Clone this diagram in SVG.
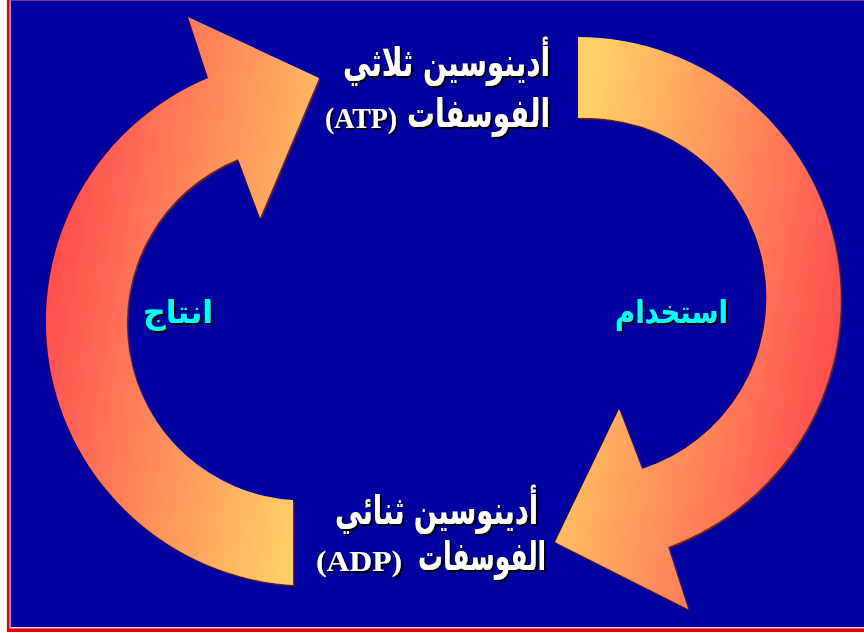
<svg xmlns="http://www.w3.org/2000/svg" width="864" height="633" viewBox="0 0 864 633">
  <defs>
    <linearGradient id="gLeft" gradientUnits="userSpaceOnUse" x1="45" y1="330" x2="322" y2="380">
      <stop offset="0" stop-color="#ff5050"/>
      <stop offset="1" stop-color="#ffd066"/>
    </linearGradient>
    <linearGradient id="gRight" gradientUnits="userSpaceOnUse" x1="844" y1="290" x2="567" y2="240">
      <stop offset="0" stop-color="#ff5050"/>
      <stop offset="1" stop-color="#ffd066"/>
    </linearGradient>
    <filter id="arrowShadow" x="-5%" y="-5%" width="110%" height="110%">
      <feDropShadow dx="1.5" dy="1.5" stdDeviation="0.4" flood-color="#7a2010" flood-opacity="1"/>
    </filter>
    <filter id="textShadow" x="-5%" y="-10%" width="110%" height="130%">
      <feDropShadow dx="2" dy="2" stdDeviation="0.3" flood-color="#000000" flood-opacity="1"/>
    </filter>
  </defs>
  <style>
    .ar { font-family: "DejaVu Sans", "Noto Sans", sans-serif; font-weight: bold; }
    .lat { font-family: "Liberation Serif", "DejaVu Serif", serif; font-weight: bold; }
    .white { fill: #ffffff; filter: url(#textShadow); }
    .cyan { fill: #00ffff; filter: url(#textShadow); }
    .arrow { filter: url(#arrowShadow); }
  </style>

  <!-- frame / background -->
  <rect x="0" y="0" width="864" height="633" fill="#ffffff"/>
  <rect x="7" y="-2" width="860" height="634" fill="#e00000"/>
  <rect x="9.5" y="-2" width="860" height="630.5" fill="#f4c4e4"/>
  <rect x="10.7" y="0" width="860" height="627" fill="#0000a0"/>
  <rect x="10.7" y="0" width="860" height="1" fill="#7a2a9a"/>

  <g id="connectors">
    <g id="arrow-production">
      <path class="arrow" fill="url(#gLeft)" d="M 293,585 A 264 264 0 0 1 208,78 L 188,17 L 319,78 L 260,218 L 238,159 A 177 177 0 0 0 293,500 Z"/>
    </g>
    <g id="arrow-usage">
      <path class="arrow" fill="url(#gRight)" d="M 578,37 A 263 263 0 0 1 668,547 L 688,609 L 555,542 L 619,409 L 642,469 A 180 180 0 0 0 578,118 Z"/>
    </g>
  </g>

  <g id="node-atp">
    <text class="ar white" x="446.5" y="76" font-size="40" text-anchor="middle" textLength="207" lengthAdjust="spacingAndGlyphs">أدينوسين ثلاثي</text>
    <text class="ar white" x="478.5" y="127" font-size="40" text-anchor="middle" textLength="143" lengthAdjust="spacingAndGlyphs">الفوسفات</text>
    <text class="lat white" x="361" y="128" font-size="29" text-anchor="middle" textLength="72" lengthAdjust="spacingAndGlyphs">(ATP)</text>
  </g>

  <g id="node-adp">
    <text class="ar white" x="436.5" y="524" font-size="40" text-anchor="middle" textLength="203" lengthAdjust="spacingAndGlyphs">أدينوسين ثنائي</text>
    <text class="ar white" x="482" y="570" font-size="40" text-anchor="middle" textLength="128" lengthAdjust="spacingAndGlyphs">الفوسفات</text>
    <text class="lat white" x="359" y="571" font-size="30" text-anchor="middle" textLength="86" lengthAdjust="spacingAndGlyphs">(ADP)</text>
  </g>

  <g id="label-production">
    <text class="ar cyan" x="178" y="323" font-size="32" text-anchor="middle" textLength="70" lengthAdjust="spacingAndGlyphs">انتاج</text>
  </g>

  <g id="label-usage">
    <text class="ar cyan" x="671.5" y="323" font-size="32" text-anchor="middle" textLength="113" lengthAdjust="spacingAndGlyphs">استخدام</text>
  </g>
</svg>
